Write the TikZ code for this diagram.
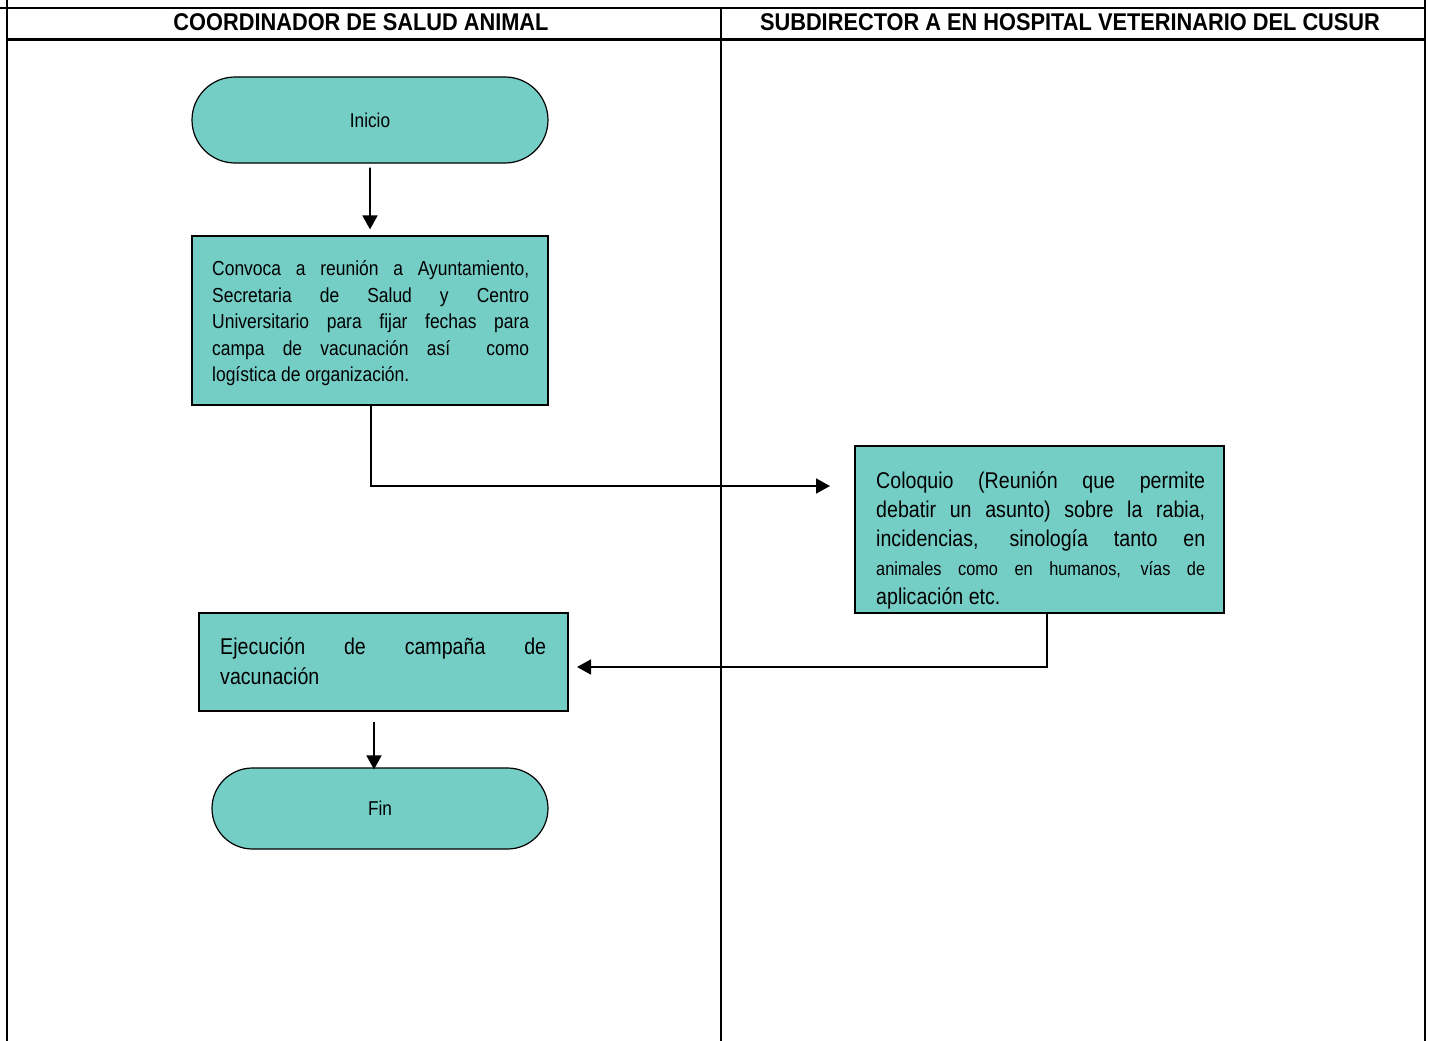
\documentclass[tikz,border=0pt]{standalone}
\usepackage{fontspec}
\setmainfont{Liberation Sans}[FakeStretch=0.86]
\newfontfamily\hdrfont{Liberation Sans}[FakeStretch=0.9]
\usetikzlibrary{arrows.meta,shapes.misc}
\definecolor{teal1}{RGB}{117,206,198}
\tikzset{
  lane/.style={line width=2pt},
  hdr/.style={font=\hdrfont\fontsize{24.2}{28}\selectfont\bfseries, inner sep=0pt},
  term/.style={rounded rectangle, draw, line width=1.2pt, fill=teal1, font=\fontsize{20}{24}\selectfont, inner sep=0pt},
  proc/.style={rectangle, draw, line width=1.2pt, fill=teal1, inner sep=0pt},
  txt/.style={anchor=north west, inner sep=0pt, align=left},
  arr/.style={line width=1.8pt, -{Triangle[length=14pt,width=15pt]}},
}
\newcommand{\jline}[2]{\makebox[#1][s]{#2}}
\begin{document}
\begin{tikzpicture}[x=1pt,y=-1pt]
\useasboundingbox (0,0) rectangle (1430,1041);
% lanes
\draw[lane] (0,8) -- (1425,8);
\draw[line width=3pt] (7,40) -- (1425,40);
\draw[lane] (7,0) -- (7,1041);
\draw[lane] (721,8) -- (721,1041);
\draw[lane] (1425,0) -- (1425,1041);
\node[hdr] (h1) at (361,22) {COORDINADOR DE SALUD ANIMAL};
\node[hdr] (h2) at (1070,22) {SUBDIRECTOR A EN HOSPITAL VETERINARIO DEL CUSUR};
% nodes
\node[term, minimum width=356pt, minimum height=86pt] (inicio) at (370,120) {Inicio};
\node[proc, minimum width=356pt, minimum height=169pt] (b1) at (370,320.5) {};
\node[txt, font=\fontsize{20.3}{26.5}\selectfont] (t1) at (212,260.7)
  {\jline{317pt}{Convoca a reunión a Ayuntamiento,}\\
   \jline{317pt}{Secretaria de Salud y Centro}\\
   \jline{317pt}{Universitario para fijar fechas para}\\
   \jline{317pt}{campa de vacunación así \ como}\\
   logística de organización.};
\node[proc, minimum width=369pt, minimum height=167pt] (colo) at (1039.5,529.5) {};
\node[txt, font=\fontsize{22.8}{29}\selectfont] (t2) at (876,471.3)
  {\jline{329pt}{Coloquio (Reunión que permite}\\
   \jline{329pt}{debatir un asunto) sobre la rabia,}\\
   \jline{329pt}{incidencias, sinología tanto en}\\
   {\fontsize{19}{28}\selectfont\jline{329pt}{animales como en humanos, vías de}}\\
   aplicación etc.};
\node[proc, minimum width=369pt, minimum height=98pt] (ejec) at (383.5,662) {};
\node[txt, font=\fontsize{22.8}{30}\selectfont] (t3) at (220,637.3)
  {\jline{326pt}{Ejecución de campaña de}\\
   vacunación};
\node[term, minimum width=336pt, minimum height=81pt] (fin) at (380,808.5) {Fin};
% connectors
\coordinate (c1) at (830,486);
\coordinate (c2) at (577,667);
\draw[arr, shorten <=4pt, shorten >=6pt] (inicio) -- (b1);
\draw[arr] ([xshift=1pt]b1.south) |- (c1);
\draw[arr] ([xshift=7.5pt]colo.south) |- (c2);
\draw[arr] ([shift={(-9.5pt,-10pt)}]ejec.south) -- ([shift={(-6pt,-2pt)}]fin.north);
\end{tikzpicture}
\end{document}
